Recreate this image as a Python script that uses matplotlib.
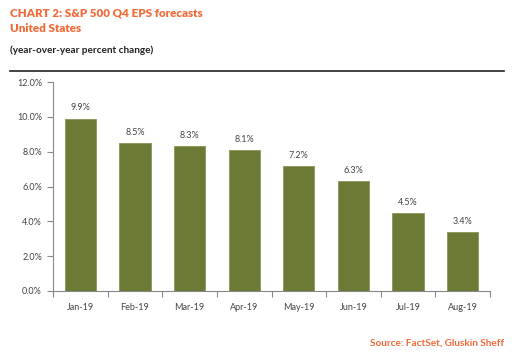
import matplotlib
matplotlib.use("Agg")
import matplotlib.pyplot as plt
from matplotlib.lines import Line2D
import numpy as np

categories = ["Jan-19", "Feb-19", "Mar-19", "Apr-19", "May-19", "Jun-19", "Jul-19", "Aug-19"]
values = [9.9, 8.5, 8.3, 8.1, 7.2, 6.3, 4.5, 3.4]
yticks = [0, 2, 4, 6, 8, 10, 12]

plt.rcParams['font.family'] = ['Lato', 'DejaVu Sans']

W, H = 518, 361
fig = plt.figure(figsize=(W/100, H/100), dpi=100)
orange = "#F26B3A"
fig.text(10/W, 1-13/H, "CHART 2: S&P 500 Q4 EPS forecasts", color=orange, fontsize=8.4, fontweight="heavy", va="center", ha="left")
fig.text(10/W, 1-29/H, "United States", color=orange, fontsize=8.4, fontweight="heavy", va="center", ha="left")
fig.text(10/W, 1-50/H, "(year-over-year percent change)", color="#222222", fontsize=7.2, fontweight="bold", va="center", ha="left")
fig.add_artist(Line2D([10/W, 504/W], [1-71/H, 1-71/H], color="#222222", lw=1.2))
fig.text(504/W, 1-343/H, "Source: FactSet, Gluskin Sheff", color=orange, fontsize=7.2, fontweight="bold", va="center", ha="right")

ax = fig.add_axes([53/W, 1-291/H, (490-53)/W, (291-82)/H])
x = np.arange(len(categories))
ax.bar(x, values, width=0.57, color="#6B7A35", edgecolor="#8A9656", linewidth=0.6)
for xi, v in zip(x, values):
    ax.text(xi, v + 0.35, f"{v:.1f}%", ha="center", va="bottom", fontsize=6.5, color="#444444")
ax.set_xlim(-0.5, len(categories) - 0.5)
ax.set_ylim(0, 12)
ax.set_yticks(yticks)
ax.set_yticklabels([f"{t:.1f}%" for t in yticks])
ax.set_xticks(x)
ax.set_xticklabels(categories)
ax.set_xticks(np.arange(-0.5, len(categories)), minor=True)
ax.tick_params(axis="x", which="major", length=0, pad=9, labelsize=6.5, labelcolor="#444444")
ax.tick_params(axis="x", which="minor", length=4, color="#888888", width=0.8)
ax.tick_params(axis="y", length=4, color="#888888", width=0.8, labelsize=6.5, labelcolor="#444444", pad=4)
for s in ["top", "right"]:
    ax.spines[s].set_visible(False)
for s in ["left", "bottom"]:
    ax.spines[s].set_color("#888888")
    ax.spines[s].set_linewidth(0.8)

fig.savefig("out.png", dpi=100)
